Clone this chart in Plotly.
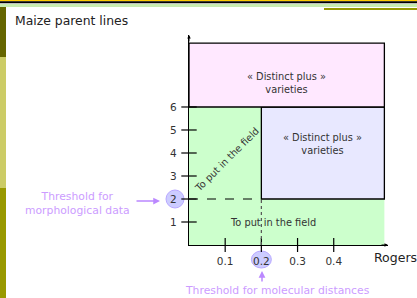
import plotly.graph_objects as go

# ---- data ----
x_ticks = [0.1, 0.2, 0.3, 0.4]
x_tick_labels = ["0.1", "0.2", "0.3", "0.4"]
y_ticks = [1, 2, 3, 4, 5, 6]
y_tick_labels = ["1", "2", "3", "4", "5", "6"]
rogers_threshold = 0.2       # threshold for molecular distances
morph_threshold = 2          # threshold for morphological data
upper_limit = 6              # upper limit of the "distinct plus" zone
x_max = 0.54                 # right edge of regions
y_max = 8.78                 # top edge of regions
x_range = [0, 0.55]
y_range = [0, 9.13]

W, H = 417, 298
L, R, T, B = 189, 29, 35, 53
pw, ph = W - L - R, H - T - B

def pix_x(p):  # pixel -> paper
    return (p - L) / pw

def pix_y(p):
    return (H - B - p) / ph

def dx(x):  # data x -> paper
    return (x - x_range[0]) / (x_range[1] - x_range[0])

def dy(y):
    return (y - y_range[0]) / (y_range[1] - y_range[0])

GREEN = "#ccffcc"
PINK = "#ffe8ff"
LAV = "#e8e8ff"
PURPLE = "#cc9cff"
TXT = "#333333"

fig = go.Figure()

shapes = []
# green L-shaped zone
shapes.append(dict(type="rect", xref="x", yref="y", x0=0, x1=x_max, y0=0, y1=morph_threshold,
                   fillcolor=GREEN, line_width=0, layer="below"))
shapes.append(dict(type="rect", xref="x", yref="y", x0=0, x1=rogers_threshold, y0=morph_threshold, y1=upper_limit,
                   fillcolor=GREEN, line_width=0, layer="below"))
# lavender
shapes.append(dict(type="rect", xref="x", yref="y", x0=rogers_threshold, x1=x_max, y0=morph_threshold, y1=upper_limit,
                   fillcolor=LAV, line=dict(color="black", width=1.3), layer="below"))
# pink
shapes.append(dict(type="rect", xref="x", yref="y", x0=0, x1=x_max, y0=upper_limit, y1=y_max,
                   fillcolor=PINK, line=dict(color="black", width=1.3), layer="below"))
# threshold lines
shapes.append(dict(type="line", xref="x", yref="y", x0=0, x1=rogers_threshold, y0=morph_threshold, y1=morph_threshold,
                   line=dict(color="black", width=1, dash="dash")))
shapes.append(dict(type="line", xref="x", yref="y", x0=rogers_threshold, x1=rogers_threshold, y0=0, y1=morph_threshold,
                   line=dict(color="#555555", width=1.2, dash="dot")))

# highlight circles behind the threshold tick labels (paper coords)
cx, cy, r = pix_x(175), dy(morph_threshold), 9
shapes.append(dict(type="circle", xref="paper", yref="paper",
                   x0=cx - r / pw, x1=cx + r / pw, y0=cy - r / ph, y1=cy + r / ph,
                   fillcolor="#ccccff", line=dict(color="#b8a8ff", width=1), layer="below"))
cx, cy, rx, ry = dx(rogers_threshold), pix_y(259.5), 10, 8.5
shapes.append(dict(type="circle", xref="paper", yref="paper",
                   x0=cx - rx / pw, x1=cx + rx / pw, y0=cy - ry / ph, y1=cy + ry / ph,
                   fillcolor="#ccccff", line=dict(color="#b8a8ff", width=1), layer="below"))

# decorative slide bars (paper coords from pixels)
def prect(x0, y0, x1, y1, color):
    shapes.append(dict(type="rect", xref="paper", yref="paper",
                       x0=pix_x(x0), x1=pix_x(x1), y0=pix_y(y1), y1=pix_y(y0),
                       fillcolor=color, line_width=0, layer="above"))

prect(0, 0, 417, 1.2, "#ffcc00")
prect(0, 1.2, 417, 3.2, "#000000")
prect(0, 4, 417, 7, "#c8ecb0")
prect(324, 8, 417, 10, "#999900")
prect(0, 7, 6, 57, "#666600")
prect(0, 57, 6, 188, "#cccc66")
prect(0, 188, 6, 298, "#999900")

# tick marks crossing the axes
fig.add_trace(go.Scatter(x=[0] * len(y_ticks), y=y_ticks, mode="markers",
                         marker=dict(symbol="line-ew", size=11, line=dict(color="black", width=1.2)),
                         cliponaxis=False, hoverinfo="skip", showlegend=False))
fig.add_trace(go.Scatter(x=x_ticks, y=[0] * len(x_ticks), mode="markers",
                         marker=dict(symbol="line-ns", size=10, line=dict(color="black", width=1.2)),
                         cliponaxis=False, hoverinfo="skip", showlegend=False))

ann = []
f8 = dict(family="DejaVu Sans", size=9.8, color=TXT)
ann.append(dict(x=(0 + x_max) / 2, y=7.05, xref="x", yref="y", text="« Distinct plus »<br>varieties",
                showarrow=False, font=f8))
ann.append(dict(x=0.37, y=4.38, xref="x", yref="y", text="« Distinct plus »<br>varieties",
                showarrow=False, font=f8))
ann.append(dict(x=0.105, y=3.7, xref="x", yref="y", text="To put in the field",
                showarrow=False, textangle=-45, font=f8))
ann.append(dict(x=0.232, y=1.0, xref="x", yref="y", text="To put in the field",
                showarrow=False, font=f8))
# title
ann.append(dict(x=pix_x(13), y=pix_y(20.5), xref="paper", yref="paper", text="Maize parent lines",
                showarrow=False, xanchor="left", yanchor="middle",
                font=dict(family="DejaVu Sans", size=12.4, color="#222222")))
# Rogers label
ann.append(dict(x=pix_x(372), y=pix_y(257), xref="paper", yref="paper", text="Rogers",
                showarrow=False, xanchor="left", yanchor="middle",
                font=dict(family="DejaVu Sans", size=12.5, color="#222222")))
# threshold labels
fpur = dict(family="DejaVu Sans", size=10.8, color=PURPLE)
ann.append(dict(x=pix_x(77), y=pix_y(203), xref="paper", yref="paper",
                text="Threshold for<br>morphological data", showarrow=False, font=fpur,
                xanchor="center", yanchor="middle"))
ann.append(dict(x=pix_x(277), y=pix_y(290), xref="paper", yref="paper",
                text="Threshold for molecular distances", showarrow=False, font=fpur,
                xanchor="center", yanchor="middle"))
# purple arrows
ann.append(dict(x=pix_x(160), y=pix_y(201), xref="paper", yref="paper", ax=-25, ay=0,
                text="", showarrow=True, arrowhead=2, arrowsize=0.9,
                arrowwidth=1.5, arrowcolor="#bb88ff"))
ann.append(dict(x=pix_x(262), y=pix_y(271), xref="paper", yref="paper", ax=0, ay=12,
                text="", showarrow=True, arrowhead=2, arrowsize=0.9,
                arrowwidth=1.5, arrowcolor="#bb88ff"))
# axis arrowheads
ann.append(dict(x=x_range[1], y=0, xref="x", yref="y", ax=-8, ay=0, text="", showarrow=True,
                arrowhead=2, arrowsize=0.7, arrowwidth=1, arrowcolor="black"))
ann.append(dict(x=0, y=y_range[1], xref="x", yref="y", ax=0, ay=8, text="", showarrow=True,
                arrowhead=2, arrowsize=0.7, arrowwidth=1, arrowcolor="black"))

fig.update_layout(
    width=W, height=H,
    margin=dict(l=L, r=R, t=T, b=B, pad=0),
    paper_bgcolor="white", plot_bgcolor="rgba(0,0,0,0)",
    shapes=shapes, annotations=ann, showlegend=False,
    xaxis=dict(range=x_range, showgrid=False, zeroline=False, showline=True, linecolor="black", linewidth=1.2,
               tickvals=x_ticks, ticktext=x_tick_labels, ticks="", ticklabelstandoff=6,
               tickfont=dict(family="DejaVu Sans", size=10.5, color=TXT), fixedrange=True, automargin=False),
    yaxis=dict(range=y_range, showgrid=False, zeroline=False, showline=True, linecolor="black", linewidth=1.2,
               tickvals=y_ticks, ticktext=y_tick_labels, ticks="", ticklabelstandoff=9,
               tickfont=dict(family="DejaVu Sans", size=10.5, color=TXT), fixedrange=True, automargin=False),
)

fig.write_html("out.html", config={"displayModeBar": False},
               post_script="document.body.style.margin='0';document.body.style.overflow='hidden';")
